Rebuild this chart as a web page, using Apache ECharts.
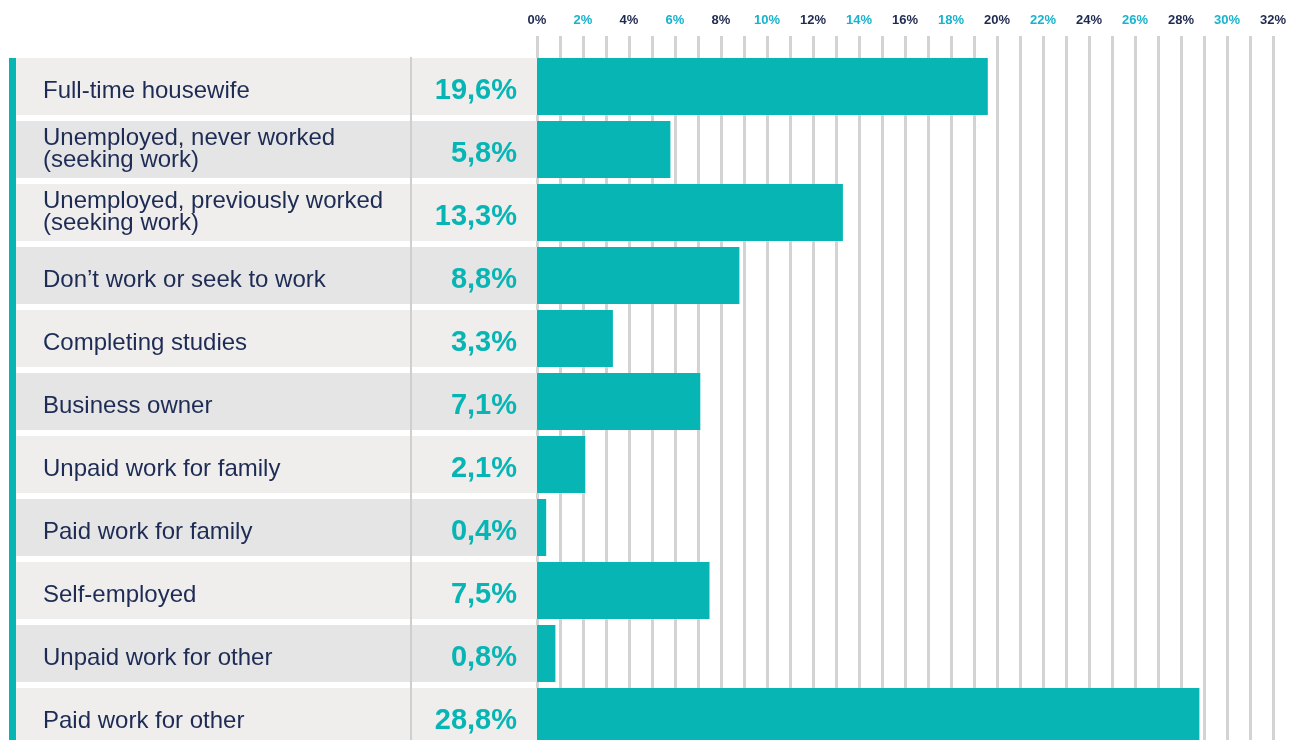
<!DOCTYPE html>
<html>
<head>
<meta charset="utf-8">
<script src="https://cdn.jsdelivr.net/npm/echarts@6/dist/echarts.min.js"></script>
<style>
  html, body { margin: 0; padding: 0; background: #fff; overflow: hidden; }
  /* last row runs past the bottom edge, like the original */
  #main { width: 1289px; height: 760px; }
</style>
</head>
<body>
<div id="main"></div>
<script>
// categories, top to bottom
var categories = [
  'Full-time housewife',
  'Unemployed, never worked\n(seeking work)',
  'Unemployed, previously worked\n(seeking work)',
  'Don\u2019t work or seek to work',
  'Completing studies',
  'Business owner',
  'Unpaid work for family',
  'Paid work for family',
  'Self-employed',
  'Unpaid work for other',
  'Paid work for other'
];
// share in %
var shares = [19.6, 5.8, 13.3, 8.8, 3.3, 7.1, 2.1, 0.4, 7.5, 0.8, 28.8];
// top axis
var axisMin = 0;
var axisMax = 32;
var axisStep = 1;

var teal = '#07b5b4';
var navy = '#1e2c55';
var fontFam = '"Liberation Sans", Arial, Helvetica, sans-serif';

function fmt(v) {
  return v.toFixed(1).replace('.', ',') + '%';
}

// row fill, one full-width bar per category
var rowFill = categories.map(function (c, i) {
  return { value: 1, itemStyle: { color: i % 2 === 0 ? '#efeeec' : '#e5e5e5' } };
});

var chart = echarts.init(document.getElementById('main'));
var option = {
  backgroundColor: '#fff',
  animation: false,
  textStyle: { fontFamily: fontFam },
  grid: [
    { left: 537, right: 16, top: 36, bottom: 0 },      // grid lines + tick labels
    { left: 15, width: 522, top: 55, height: 693 },    // table part
    { left: 537, right: 16, top: 55, height: 693 }     // bars
  ],
  xAxis: [
    {
      gridIndex: 0, type: 'value', position: 'top',
      min: axisMin, max: axisMax, interval: axisStep,
      axisLine: { show: false }, axisTick: { show: false },
      splitLine: { show: true, lineStyle: { color: '#d3d3d3', width: 3 } },
      axisLabel: {
        margin: 9,
        formatter: function (v) {
          if (v % 2 !== 0) return '';
          return (v % 4 === 0 ? '{a|' : '{b|') + v + '%}';
        },
        rich: {
          a: { color: '#1f2a4f', fontSize: 13, fontWeight: 'bold', fontFamily: fontFam },
          b: { color: '#18b3cf', fontSize: 13, fontWeight: 'bold', fontFamily: fontFam }
        }
      }
    },
    { gridIndex: 1, type: 'value', min: 0, max: 1, show: false },
    { gridIndex: 2, type: 'value', min: axisMin, max: axisMax, show: false }
  ],
  yAxis: [
    { gridIndex: 0, type: 'value', min: 0, max: 1, show: false },
    {
      gridIndex: 1, type: 'category', inverse: true, data: categories, z: 10,
      axisLine: { show: false }, axisTick: { show: false },
      axisLabel: {
        inside: true, margin: 28, interval: 0, align: 'left',
        formatter: function (v) {
          var parts = v.split('\n');
          if (parts.length === 1) return '{s|' + v + '}';
          return parts.map(function (p) { return '{m|' + p + '}'; }).join('\n');
        },
        rich: {
          s: { color: navy, fontSize: 24, lineHeight: 24, fontFamily: fontFam, padding: [9, 0, 0, 0] },
          m: { color: navy, fontSize: 24, lineHeight: 22, fontFamily: fontFam }
        }
      }
    },
    {
      gridIndex: 2, type: 'category', inverse: true, data: categories, z: 10,
      axisLine: { show: false }, axisTick: { show: false },
      axisLabel: {
        margin: 20, interval: 0,
        formatter: function (v, i) { return '{v|' + fmt(shares[i]) + '}'; },
        rich: {
          v: { color: teal, fontSize: 29, fontWeight: 'bold', lineHeight: 29, fontFamily: fontFam, padding: [9, 0, 0, 0] }
        }
      }
    }
  ],
  graphic: [
    { type: 'rect', left: 9, top: 58, shape: { width: 7, height: 700 }, style: { fill: teal }, z: 20 },
    { type: 'rect', left: 410, top: 57, shape: { width: 2, height: 700 }, style: { fill: '#cfcfcf' }, z: 20 }
  ],
  series: [
    {
      type: 'bar', xAxisIndex: 1, yAxisIndex: 1,
      barWidth: 57, data: rowFill, silent: true
    },
    {
      type: 'bar', xAxisIndex: 2, yAxisIndex: 2,
      barWidth: 57, data: shares,
      itemStyle: { color: teal }
    }
  ]
};
chart.setOption(option);
</script>
</body>
</html>
